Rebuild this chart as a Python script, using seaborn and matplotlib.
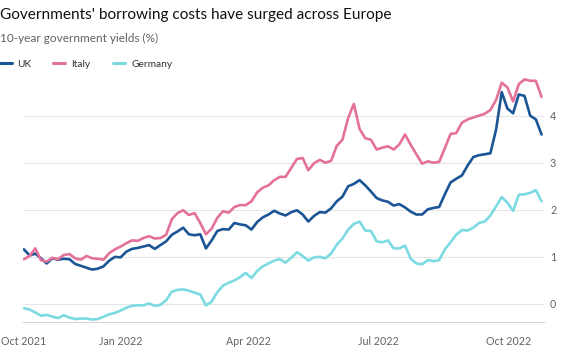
import numpy as np
import pandas as pd
import matplotlib
matplotlib.use("Agg")
import matplotlib.pyplot as plt
from matplotlib.lines import Line2D
import seaborn as sns

# ---------------- data ----------------
# observations every 4 days, 25 Oct 2021 .. 24 Oct 2022
dates = pd.date_range("2021-10-25", "2022-10-24", freq="4D")
countries = ["UK", "Italy", "Germany"]

uk = [1.16, 1.03, 1.07, 0.97, 0.86, 0.97, 0.94, 0.96, 0.95, 0.85, 0.81, 0.77,
      0.73, 0.75, 0.80, 0.92, 1.00, 0.99, 1.11, 1.17, 1.19, 1.22, 1.25, 1.17,
      1.25, 1.33, 1.47, 1.54, 1.62, 1.48, 1.46, 1.48, 1.18, 1.35, 1.55, 1.59,
      1.58, 1.72, 1.69, 1.67, 1.58, 1.74, 1.84, 1.90, 1.98, 1.92,
      1.88, 1.95, 1.99, 1.90, 1.75, 1.87, 1.95, 1.94, 2.03, 2.18, 2.28, 2.50,
      2.55, 2.63, 2.52, 2.39, 2.25, 2.20, 2.17, 2.09, 2.12, 2.05, 1.96, 1.90,
      1.90, 2.01, 2.04, 2.06, 2.33, 2.58, 2.66, 2.73, 2.94, 3.12, 3.16, 3.18,
      3.20, 3.70, 4.50, 4.15, 4.05, 4.45, 4.42, 4.00, 3.92, 3.60]

italy = [0.95, 1.02, 1.18, 0.93, 0.90, 0.98, 0.95, 1.04, 1.06, 0.97, 0.94, 1.02,
         0.97, 0.96, 0.94, 1.08, 1.16, 1.22, 1.29, 1.35, 1.34, 1.40, 1.44, 1.39,
         1.40, 1.47, 1.80, 1.93, 1.99, 1.89, 1.93, 1.72, 1.48, 1.60, 1.83, 1.97,
         1.94, 2.06, 2.10, 2.10, 2.18, 2.37, 2.47, 2.52, 2.63, 2.70,
         2.70, 2.89, 3.08, 3.10, 2.84, 2.99, 3.06, 3.00, 3.04, 3.36, 3.49, 3.95,
         4.25, 3.72, 3.52, 3.49, 3.28, 3.32, 3.35, 3.28, 3.39, 3.60, 3.38, 3.18,
         2.98, 3.03, 3.00, 3.02, 3.31, 3.61, 3.63, 3.85, 3.92, 3.96, 4.00, 4.04,
         4.12, 4.33, 4.70, 4.60, 4.30, 4.67, 4.77, 4.74, 4.74, 4.40]

germany = [-0.09, -0.12, -0.18, -0.25, -0.23, -0.27, -0.30, -0.24, -0.29, -0.32,
           -0.31, -0.31, -0.33, -0.32, -0.27, -0.22, -0.19, -0.14, -0.08, -0.04,
           -0.03, -0.03, 0.01, -0.04, -0.02, 0.08, 0.26, 0.30, 0.31, 0.28, 0.24,
           0.20, -0.03, 0.05, 0.25, 0.39, 0.45, 0.50, 0.57, 0.66, 0.55, 0.70,
           0.80, 0.86, 0.92, 0.95,
           0.88, 0.98, 1.10, 1.02, 0.92, 0.99, 1.00, 0.97, 1.07, 1.26, 1.39, 1.58,
           1.70, 1.75, 1.56, 1.55, 1.33, 1.31, 1.35, 1.18, 1.18, 1.24, 0.96, 0.86,
           0.84, 0.93, 0.91, 0.93, 1.16, 1.31, 1.47, 1.57, 1.56, 1.62, 1.72, 1.75,
           1.88, 2.07, 2.27, 2.15, 1.98, 2.32, 2.33, 2.36, 2.42, 2.18]

y_ticks = [0, 1, 2, 3, 4]
x_tick_dates = ["2021-10-25", "2021-11-01", "2021-12-01", "2022-01-01", "2022-02-01",
                "2022-03-01", "2022-04-01", "2022-05-01", "2022-06-01", "2022-07-01",
                "2022-08-01", "2022-09-01", "2022-10-01", "2022-10-24"]
x_tick_labels = ["Oct 2021", "", "", "Jan 2022", "", "", "Apr 2022", "", "",
                 "Jul 2022", "", "", "Oct 2022", ""]

title = "Governments' borrowing costs have surged across Europe"
subtitle = "10-year government yields (%)"

palette = {"UK": "#1b5595", "Italy": "#e4719c", "Germany": "#7cdbe2"}

# ---------------- plot ----------------
sns.set_theme(style="white")
plt.rcParams["font.family"] = ["Lato", "DejaVu Sans"]

df = pd.DataFrame({
    "date": np.tile(dates, 3),
    "country": np.repeat(countries, len(dates)),
    "yield": np.concatenate([uk, italy, germany]),
})

W, H = 562, 359
fig = plt.figure(figsize=(W / 100, H / 100), dpi=100)
fig.patch.set_facecolor("white")
ax = fig.add_axes([22.5 / W, 1 - 321.7 / H, (544.4 - 22.5) / W, (321.7 - 71.4) / H])
ax.set_facecolor("white")

sns.lineplot(data=df, x="date", y="yield", hue="country", hue_order=countries,
             palette=palette, linewidth=1.9, legend=False, ax=ax,
             estimator=None, sort=False)
for ln in ax.lines:
    ln.set_solid_joinstyle("round")
    ln.set_solid_capstyle("round")

ax.set_xlim(dates[0] - pd.Timedelta(days=1), dates[-1] + pd.Timedelta(days=2))
ax.set_ylim(-0.377, 4.94)

ax.yaxis.tick_right()
ax.set_yticks(y_ticks)
ax.set_yticklabels([str(v) for v in y_ticks])
ax.tick_params(axis="y", length=0, pad=4, labelsize=9, labelcolor="#66605c")
ax.grid(axis="y", color="#e6e6e6", linewidth=0.8)
ax.grid(axis="x", visible=False)

ax.set_xticks(pd.to_datetime(x_tick_dates))
ax.set_xticklabels(x_tick_labels)
ax.tick_params(axis="x", length=5, width=0.8, color="#d6d6d6", pad=5,
               labelsize=9, labelcolor="#66605c")

for s in ["top", "left", "right"]:
    ax.spines[s].set_visible(False)
ax.spines["bottom"].set_color("#d6d6d6")
ax.spines["bottom"].set_linewidth(0.8)
ax.set_xlabel("")
ax.set_ylabel("")

# titles
t_title = fig.text(0, 1 - 19 / H, title, fontsize=12.5, color="#111111",
                   ha="left", va="baseline")
t_sub = fig.text(0, 1 - 42.5 / H, subtitle, fontsize=9, color="#66605c",
                 ha="left", va="baseline")

# legend
leg_items = [("UK", 0, 17), ("Italy", 53, 71), ("Germany", 113, 131)]
leg_texts = []
for name, x0, tx in leg_items:
    fig.add_artist(Line2D([x0 / W, (x0 + 12) / W], [1 - 63 / H, 1 - 63 / H],
                          color=palette[name], linewidth=2.2,
                          transform=fig.transFigure))
    leg_texts.append(fig.text(tx / W, 1 - 67.3 / H, name, fontsize=9,
                              color="#33302e", ha="left", va="baseline"))

# fit text widths to reference
fig.canvas.draw()
r = fig.canvas.get_renderer()
for t, target in [(t_title, 393), (t_sub, 157), (leg_texts[2], 41)]:
    w = t.get_window_extent(r).width
    t.set_fontsize(t.get_fontsize() * target / w)
fs_leg = leg_texts[2].get_fontsize()
for t in leg_texts:
    t.set_fontsize(fs_leg)

# tick label size so that "Oct 2021" is ~45 px wide
lab0 = ax.get_xticklabels()[0]
w0 = lab0.get_window_extent(r).width
fs_tick = 9 * 45 / w0
ax.tick_params(axis="both", labelsize=fs_tick)

fig.savefig("out.png", dpi=100, facecolor="white")
